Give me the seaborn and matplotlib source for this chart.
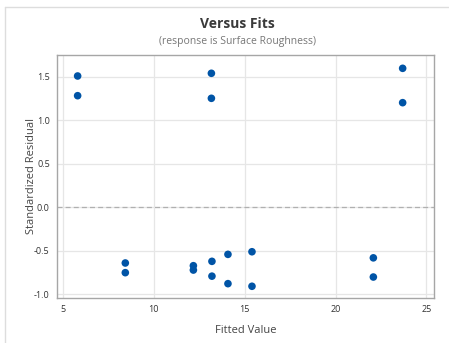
import matplotlib
matplotlib.use("Agg")
import matplotlib.pyplot as plt
from matplotlib.lines import Line2D
import seaborn as sns
import pandas as pd

# Fitted values and standardized residuals
fitted = [5.83, 5.83, 8.45, 8.45, 12.19, 12.19, 13.18, 13.18, 13.21, 13.21,
          14.09, 14.09, 15.41, 15.41, 22.08, 22.08, 23.69, 23.69]
std_resid = [1.506, 1.28, -0.639, -0.75, -0.67, -0.72, 1.537, 1.25, -0.62, -0.79,
             -0.54, -0.876, -0.51, -0.906, -0.58, -0.80, 1.594, 1.20]

x_ticks = [5, 10, 15, 20, 25]
y_ticks = [-1.0, -0.5, 0.0, 0.5, 1.0, 1.5]

df = pd.DataFrame({"Fitted Value": fitted, "Standardized Residual": std_resid})

sns.set_theme(style="white")
plt.rcParams["font.family"] = ["Open Sans", "DejaVu Sans"]

fig = plt.figure(figsize=(4.49, 3.43), dpi=100)
ax = fig.add_axes([0.1263, 0.1321, 0.8410, 0.7076])

ax.grid(True, color="#e6e6e6", linewidth=0.9, zorder=0)
ax.axhline(0, color="#b0b0b0", linestyle=(0, (4, 2.5)), linewidth=0.9, zorder=1)

sns.scatterplot(data=df, x="Fitted Value", y="Standardized Residual", ax=ax,
                color="#0054a6", s=30, edgecolor="none", zorder=3)

ax.set_xlim(4.68, 25.43)
ax.set_ylim(-1.037, 1.747)
ax.set_xticks(x_ticks)
ax.set_yticks(y_ticks)
ax.set_xticklabels([str(t) for t in x_ticks])
ax.set_yticklabels([f"{t:.1f}" for t in y_ticks])
ax.tick_params(axis="both", labelsize=6.5, colors="#333333", length=3,
               width=0.8, direction="out", pad=2)
ax.tick_params(axis="both", colors="#999999", labelcolor="#333333")

for side in ["left", "bottom", "right", "top"]:
    ax.spines[side].set_color("#a6a6a6")
    ax.spines[side].set_linewidth(1.0)

ax.set_xlabel("Fitted Value", fontsize=8, color="#444444", labelpad=8)
ax.set_ylabel("Standardized Residual", fontsize=8, color="#444444", labelpad=-2)

fig.text(0.528, 0.930, "Versus Fits", ha="center", va="center",
         fontsize=10, fontweight="bold", color="#3a3a3a")
fig.text(0.528, 0.878, "(response is Surface Roughness)", ha="center",
         va="center", fontsize=7.5, color="#777777")

# light panel frame along the top and left edges
fig.add_artist(Line2D([5 / 449, 1.0], [1 - 7 / 343, 1 - 7 / 343],
                      transform=fig.transFigure, color="#dddddd", linewidth=1))
fig.add_artist(Line2D([5 / 449, 5 / 449], [0.0, 1 - 7 / 343],
                      transform=fig.transFigure, color="#dddddd", linewidth=1))

fig.savefig("out.png", dpi=100)
